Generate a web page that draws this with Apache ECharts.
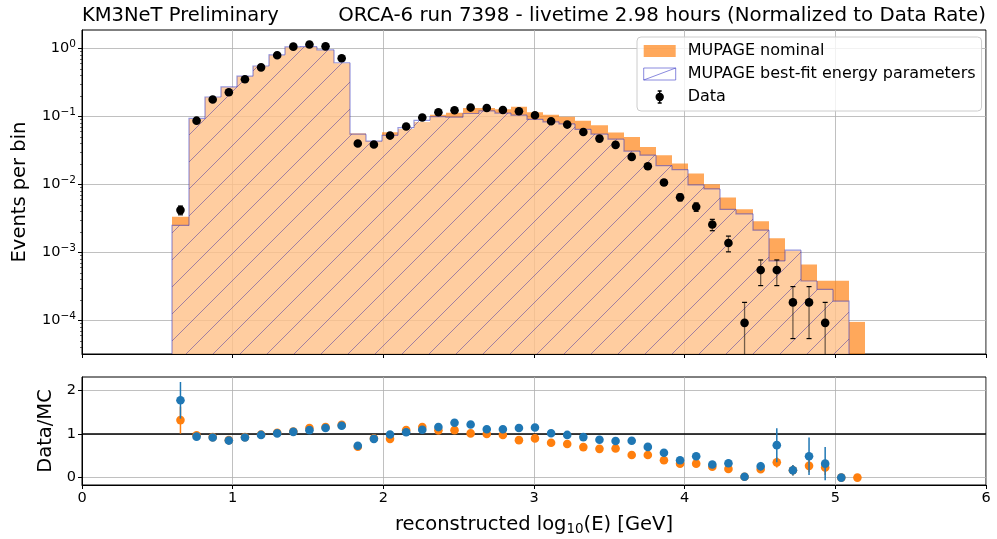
<!DOCTYPE html>
<html>
<head>
<meta charset="utf-8">
<script src="https://cdn.jsdelivr.net/npm/echarts@6/dist/echarts.min.js"></script>
<style>
  html, body { margin: 0; padding: 0; background: #fff; }
  #chart { width: 997px; height: 539px; }
</style>
</head>
<body>
<div id="chart"></div>
<script>
  // bin edges in log10(E/GeV)
  var binEdges = [0.600, 0.707, 0.814, 0.921, 1.028, 1.135, 1.242, 1.349, 1.456, 1.563,
    1.670, 1.777, 1.884, 1.991, 2.098, 2.205, 2.312, 2.419, 2.526, 2.633,
    2.740, 2.847, 2.953, 3.060, 3.167, 3.274, 3.381, 3.488, 3.595, 3.702,
    3.809, 3.916, 4.023, 4.130, 4.237, 4.344, 4.451, 4.558, 4.665, 4.772,
    4.879, 4.986, 5.093, 5.200];

  // MUPAGE nominal (events per bin)
  var nominal = [0.00334, 0.092, 0.192, 0.27, 0.39, 0.55, 0.80, 1.05, 1.06, 0.95,
    0.61, 0.0565, 0.0435, 0.059, 0.0654, 0.0834, 0.1066, 0.114, 0.1336, 0.134,
    0.1276, 0.139, 0.116, 0.1066, 0.099, 0.0865, 0.0745, 0.0582, 0.0501, 0.0357,
    0.027, 0.0204, 0.0145, 0.0101, 0.00645, 0.00433, 0.00289, 0.00162, 0.00106, 0.000667,
    0.000383, 0.000383, 0.000095];

  // MUPAGE best-fit energy parameters
  var bestFit = [0.0025, 0.094, 0.194, 0.273, 0.393, 0.555, 0.81, 1.06, 1.07, 0.96,
    0.62, 0.055, 0.0435, 0.053, 0.0686, 0.088, 0.0997, 0.098, 0.111, 0.121,
    0.1126, 0.105, 0.091, 0.0836, 0.0778, 0.065, 0.0552, 0.0465, 0.031, 0.027,
    0.019, 0.0166, 0.0099, 0.0086, 0.0043, 0.0037, 0.00213, 0.00075, 0.00108, 0.00038,
    0.000286, 0.000192, null];

  // Data and its errors
  var dataVals = [0.0042, 0.087, 0.178, 0.228, 0.354, 0.53, 0.80, 1.07, 1.15, 1.08,
    0.72, 0.0401, 0.0387, 0.0525, 0.0713, 0.0967, 0.1157, 0.124, 0.1356, 0.134,
    0.125, 0.1197, 0.1046, 0.0853, 0.0762, 0.0594, 0.0474, 0.0383, 0.0255, 0.0186,
    0.0107, 0.0065, 0.00469, 0.00258, 0.00138, 0.000092, 0.00055, 0.00055, 0.000184, 0.000184,
    0.000092, null, null];
  var dataErr = [0.00062, 0.0028, 0.0040, 0.0046, 0.0057, 0.0070, 0.0086, 0.0099, 0.0103, 0.0100,
    0.0081, 0.0019, 0.0019, 0.0022, 0.0026, 0.0030, 0.0033, 0.0034, 0.0035, 0.0035,
    0.0034, 0.0033, 0.0031, 0.0028, 0.0026, 0.0023, 0.0021, 0.0019, 0.0015, 0.0013,
    0.00099, 0.00077, 0.00066, 0.00049, 0.00036, 0.000092, 0.000225, 0.000225, 0.00013, 0.00013,
    0.000092, null, null];

  // Data/MC ratios
  var ratioNom = [1.32, 0.97, 0.93, 0.86, 0.93, 0.99, 1.03, 1.06, 1.14, 1.16,
    1.21, 0.71, 0.90, 0.89, 1.09, 1.16, 1.085, 1.09, 1.015, 1.0,
    0.98, 0.86, 0.90, 0.80, 0.77, 0.70, 0.66, 0.67, 0.52, 0.52,
    0.40, 0.32, 0.32, 0.25, 0.20, 0.02, 0.19, 0.35, 0.17, 0.27,
    0.23, 0, 0];
  var ratioNomErr = [0.31, 0.02, 0.02, 0.02, 0.02, 0.02, 0.02, 0.02, 0.02, 0.02,
    0.02, 0.03, 0.03, 0.03, 0.03, 0.03, 0.03, 0.03, 0.03, 0.03,
    0.03, 0.03, 0.03, 0.03, 0.03, 0.03, 0.03, 0.03, 0.03, 0.03,
    0.03, 0.03, 0.04, 0.05, 0.05, 0.02, 0.08, 0.12, 0.12, 0.15,
    0.17, 0, 0];
  var ratioFit = [1.775, 0.94, 0.92, 0.85, 0.92, 0.98, 1.015, 1.05, 1.09, 1.14,
    1.19, 0.73, 0.89, 0.99, 1.04, 1.10, 1.16, 1.26, 1.22, 1.11,
    1.11, 1.14, 1.15, 1.02, 0.98, 0.93, 0.87, 0.84, 0.845, 0.705,
    0.57, 0.40, 0.49, 0.30, 0.33, 0.02, 0.26, 0.745, 0.17, 0.49,
    0.32, 0, null];
  var ratioFitErr = [0.42, 0.02, 0.02, 0.02, 0.02, 0.02, 0.02, 0.02, 0.02, 0.02,
    0.02, 0.03, 0.03, 0.03, 0.03, 0.03, 0.03, 0.03, 0.03, 0.03,
    0.03, 0.03, 0.03, 0.03, 0.03, 0.03, 0.03, 0.03, 0.04, 0.04,
    0.04, 0.04, 0.05, 0.06, 0.085, 0.02, 0.10, 0.39, 0.12, 0.43,
    0.38, 0, null];

  var yTicksLog = [1e-4, 1e-3, 1e-2, 1e-1, 1];
  var yMinorLog = [2e-5, 3e-5, 4e-5, 5e-5, 6e-5, 7e-5, 8e-5, 9e-5,
    2e-4, 3e-4, 4e-4, 5e-4, 6e-4, 7e-4, 8e-4, 9e-4,
    2e-3, 3e-3, 4e-3, 5e-3, 6e-3, 7e-3, 8e-3, 9e-3,
    2e-2, 3e-2, 4e-2, 5e-2, 6e-2, 7e-2, 8e-2, 9e-2,
    0.2, 0.3, 0.4, 0.5, 0.6, 0.7, 0.8, 0.9];
  var yTicksRatio = [0, 1, 2];

  var FONT = "DejaVu Sans";
  var NOM_FILL = "rgba(255,127,14,0.68)";
  var FIT_EDGE = "rgba(50,50,190,0.5)";
  var HATCH = "rgba(70,50,160,0.5)";
  var Y_MIN = 3.2e-5, Y_MAX = 1.88;

  // hatch tile for the best-fit histogram
  var hatch = document.createElement("canvas");
  var HS = 27;
  hatch.width = HS; hatch.height = HS;
  (function () {
    var c = hatch.getContext("2d");
    c.strokeStyle = HATCH;
    c.lineWidth = 1;
    [-HS, 0, HS].forEach(function (k) {
      c.beginPath();
      c.moveTo(k, HS);
      c.lineTo(k + HS, 0);
      c.stroke();
    });
  })();

  var histNom = [], histFit = [], dataPts = [], rNom = [], rFit = [];
  for (var i = 0; i < nominal.length; i++) {
    var c = (binEdges[i] + binEdges[i + 1]) / 2;
    histNom.push([binEdges[i], binEdges[i + 1], nominal[i]]);
    histFit.push([binEdges[i], binEdges[i + 1], bestFit[i]]);
    dataPts.push([c, dataVals[i], dataErr[i]]);
    rNom.push([c, ratioNom[i], ratioNomErr[i]]);
    rFit.push([c, ratioFit[i], ratioFitErr[i]]);
  }

  function renderNominal(params, api) {
    var v = api.value(2);
    if (!(v > 0)) return;
    var cs = params.coordSys;
    var p0 = api.coord([api.value(0), v]);
    var p1 = api.coord([api.value(1), v]);
    var xa = Math.round(p0[0]), xb = Math.round(p1[0]);
    var yb = cs.y + cs.height;
    return {
      type: "rect",
      shape: { x: xa, y: p0[1], width: xb - xa, height: yb - p0[1] },
      style: { fill: NOM_FILL }
    };
  }

  function renderFit(params, api) {
    var v = api.value(2);
    if (!(v > 0)) return;
    var idx = params.dataIndex;
    var cs = params.coordSys;
    var yb = cs.y + cs.height;
    var p0 = api.coord([api.value(0), v]);
    var p1 = api.coord([api.value(1), v]);
    var xa = Math.round(p0[0]), xb = Math.round(p1[0]);
    var prev = idx > 0 ? bestFit[idx - 1] : null;
    var next = idx < bestFit.length - 1 ? bestFit[idx + 1] : null;
    var yPrev = prev > 0 ? api.coord([0, prev])[1] : yb;
    var pts = [[xa, yPrev], [xa, p0[1]], [xb, p0[1]]];
    if (!(next > 0)) pts.push([xb, yb]);
    return {
      type: "group",
      children: [
        { type: "rect", shape: { x: xa, y: p0[1], width: xb - xa, height: yb - p0[1] },
          style: { fill: "rgba(255,255,255,0.42)" } },
        { type: "rect", shape: { x: xa, y: p0[1], width: xb - xa, height: yb - p0[1] },
          style: { fill: { image: hatch, repeat: "repeat" } } },
        { type: "polyline", shape: { points: pts },
          style: { stroke: FIT_EDGE, lineWidth: 1.2, fill: null } }
      ]
    };
  }

  function renderData(params, api) {
    var v = api.value(1), e = api.value(2);
    if (!(v > 0)) return;
    var cs = params.coordSys;
    var yb = cs.y + cs.height;
    var p = api.coord([api.value(0), v]);
    var top = api.coord([api.value(0), v + e])[1];
    var lo = v - e > Y_MIN ? api.coord([api.value(0), v - e])[1] : yb;
    var ch = [
      { type: "line", shape: { x1: p[0], y1: top, x2: p[0], y2: lo },
        style: { stroke: "rgba(0,0,0,0.55)", lineWidth: 1.3 } },
      { type: "line", shape: { x1: p[0] - 2.5, y1: top, x2: p[0] + 2.5, y2: top },
        style: { stroke: "#000", lineWidth: 1.2 } }
    ];
    if (lo < yb) {
      ch.push({ type: "line", shape: { x1: p[0] - 2.5, y1: lo, x2: p[0] + 2.5, y2: lo },
        style: { stroke: "#000", lineWidth: 1.2 } });
    }
    ch.push({ type: "circle", shape: { cx: p[0], cy: p[1], r: 4.3 }, style: { fill: "#000" } });
    return { type: "group", children: ch };
  }

  function makeRatioRender(color) {
    return function (params, api) {
      var v = api.value(1), e = api.value(2);
      if (v == null || isNaN(v)) return;
      var x = api.value(0);
      var p = api.coord([x, v]);
      var a = api.coord([x, v + e]), b = api.coord([x, v - e]);
      return {
        type: "group",
        children: [
          { type: "line", shape: { x1: p[0], y1: a[1], x2: p[0], y2: b[1] },
            style: { stroke: color, lineWidth: 1.5 } },
          { type: "circle", shape: { cx: p[0], cy: p[1], r: 4.3 }, style: { fill: color } }
        ]
      };
    };
  }

  var gridLine = { show: true, lineStyle: { color: "#b0b0b0", width: 0.8 } };
  var axisLine = { show: true, onZero: false, lineStyle: { color: "#000", width: 1 } };

  var chart = echarts.init(document.getElementById("chart"));
  chart.setOption({
    animation: false,
    textStyle: { fontFamily: FONT },
    title: [
      { text: "KM3NeT Preliminary", left: 77, top: 1,
        textStyle: { fontFamily: FONT, fontSize: 19.5, fontWeight: "normal", color: "#000" } },
      { text: "ORCA-6 run 7398 - livetime 2.98 hours (Normalized to Data Rate)", right: 6, top: 1,
        textStyle: { fontFamily: FONT, fontSize: 19.8, fontWeight: "normal", color: "#000" } }
    ],
    legend: {
      orient: "vertical",
      left: 637, top: 37,
      padding: [5, 6, 5, 6],
      itemWidth: 32, itemHeight: 12, itemGap: 5,
      backgroundColor: "rgba(255,255,255,0.8)",
      borderColor: "#cccccc", borderWidth: 1, borderRadius: 4,
      selectedMode: false,
      textStyle: { fontFamily: FONT, fontSize: 16, color: "#000", lineHeight: 18, padding: [0, 0, 0, 7] },
      data: [
        { name: "MUPAGE nominal", icon: "rect", itemStyle: { color: NOM_FILL, borderWidth: 0 } },
        { name: "MUPAGE best-fit energy parameters",
          icon: "path://M0,0 L32,0 L32,12 L0,12 Z M0,12 L32,0",
          itemStyle: { color: "#fff", borderColor: "rgba(60,60,200,0.6)", borderWidth: 1 } },
        { name: "Data",
          icon: "path://M0,0 M32,12 M16,0 L16,12 M14,0 L18,0 M14,12 L18,12 M12.5,6 A3.5,3.5 0 1,0 19.5,6 A3.5,3.5 0 1,0 12.5,6 Z",
          itemStyle: { color: "#000", borderColor: "#000", borderWidth: 1.4 } }
      ]
    },
    grid: [
      { left: 82, right: 11, top: 30, height: 324, show: true, borderColor: "#000", borderWidth: 1 },
      { left: 82, right: 11, top: 377, height: 108, show: true, borderColor: "#000", borderWidth: 1 }
    ],
    xAxis: [
      { type: "value", gridIndex: 0, min: 0, max: 6, interval: 1,
        axisLine: axisLine, axisTick: { show: true, length: 4, lineStyle: { color: "#000" } },
        axisLabel: { show: false }, splitLine: gridLine },
      { type: "value", gridIndex: 1, min: 0, max: 6, interval: 1,
        axisLine: axisLine, axisTick: { show: true, length: 4, lineStyle: { color: "#000" } },
        axisLabel: { fontFamily: FONT, fontSize: 14.5, color: "#000", margin: 6 },
        splitLine: gridLine,
        name: "reconstructed log{sub|10}(E) [GeV]", nameLocation: "middle", nameGap: 28,
        nameTextStyle: { fontFamily: FONT, fontSize: 19.5, color: "#000",
          rich: { sub: { fontFamily: FONT, fontSize: 13.5, color: "#000", padding: [9, 0, 0, 0] } } } }
    ],
    yAxis: [
      { type: "log", logBase: 10, gridIndex: 0, min: Y_MIN, max: Y_MAX,
        axisLine: axisLine,
        axisTick: { show: true, length: 4, lineStyle: { color: "#000" }, customValues: yTicksLog },
        axisLabel: { customValues: yTicksLog, margin: 6, color: "#000",
          formatter: function (v) {
            var e = Math.round(Math.log10(v));
            return "{b|10}{s|" + (e < 0 ? "\u2212" + (-e) : e) + "}";
          },
          rich: {
            b: { fontFamily: FONT, fontSize: 14.5, color: "#000" },
            s: { fontFamily: FONT, fontSize: 10.5, color: "#000", padding: [0, 0, 9, 0] }
          } },
        splitLine: gridLine,
        name: "Events per bin", nameLocation: "middle", nameGap: 52,
        nameTextStyle: { fontFamily: FONT, fontSize: 19.5, color: "#000" } },
      { type: "log", logBase: 10, gridIndex: 0, min: Y_MIN, max: Y_MAX, position: "left",
        axisLine: { show: false },
        axisTick: { show: true, length: 2, lineStyle: { color: "#000", width: 0.6 }, customValues: yMinorLog },
        axisLabel: { show: false }, splitLine: { show: false } },
      { type: "value", gridIndex: 1, min: -0.17, max: 2.31,
        axisLine: axisLine,
        axisTick: { show: true, length: 4, lineStyle: { color: "#000" }, customValues: yTicksRatio },
        axisLabel: { customValues: yTicksRatio, fontFamily: FONT, fontSize: 14.5, color: "#000", margin: 6 },
        splitLine: gridLine,
        name: "Data/MC", nameLocation: "middle", nameGap: 21,
        nameTextStyle: { fontFamily: FONT, fontSize: 19.5, color: "#000" } }
    ],
    series: [
      { name: "MUPAGE nominal", type: "custom", xAxisIndex: 0, yAxisIndex: 0,
        renderItem: renderNominal, data: histNom, encode: { x: [0, 1], y: 2 }, clip: true, z: 2 },
      { name: "MUPAGE best-fit energy parameters", type: "custom", xAxisIndex: 0, yAxisIndex: 0,
        renderItem: renderFit, data: histFit, encode: { x: [0, 1], y: 2 }, clip: true, z: 3 },
      { name: "Data", type: "custom", xAxisIndex: 0, yAxisIndex: 0,
        renderItem: renderData, data: dataPts, encode: { x: 0, y: 1 }, clip: true, z: 5 },
      { name: "unity", type: "line", xAxisIndex: 1, yAxisIndex: 2, data: [[0, 1], [6, 1]],
        symbol: "none", lineStyle: { color: "#000", width: 1.5 }, z: 2, silent: true },
      { name: "ratio nominal", type: "custom", xAxisIndex: 1, yAxisIndex: 2,
        renderItem: makeRatioRender("#ff7f0e"), data: rNom, encode: { x: 0, y: 1 }, z: 4 },
      { name: "ratio best-fit", type: "custom", xAxisIndex: 1, yAxisIndex: 2,
        renderItem: makeRatioRender("#1f77b4"), data: rFit, encode: { x: 0, y: 1 }, z: 5 }
    ]
  });
</script>
</body>
</html>
